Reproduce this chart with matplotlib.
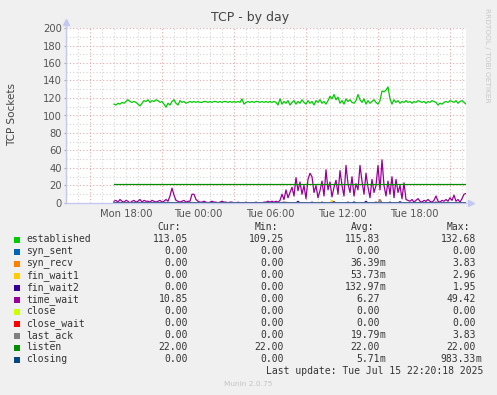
#munin tcp graph, by day
import matplotlib
matplotlib.use('Agg')
import matplotlib.pyplot as plt
from matplotlib.patches import Rectangle
import numpy as np

# samples every 10 min, starting Mon 17:00 (hours counted from Mon 00:00)
start_h = 17.0
step_h = 1.0 / 6

established = [113, 112, 114, 113, 115, 114, 116, 118, 116, 115,
               116, 115, 113, 111, 114, 117, 116, 118, 115, 117,
               116, 118, 117, 115, 116, 113, 109.5, 114, 112, 116,
               118, 114, 112, 117, 115, 116, 114, 115, 116, 115,
               116, 115, 116, 115, 115, 116, 116, 115, 116, 115,
               116, 116, 115, 116, 115, 116, 116, 115, 116, 115,
               116, 115, 116, 115, 119, 113, 115, 116, 115, 116,
               115, 116, 116, 115, 116, 115, 116, 115, 116, 115,
               116, 115, 112, 119, 113, 116, 114, 117, 112, 115,
               117, 113, 116, 114, 118, 115, 113, 117, 114, 116,
               112, 117, 115, 118, 114, 116, 113, 117, 122, 119,
               124, 118, 121, 114, 117, 113, 119, 116, 118, 115,
               114, 117, 124, 118, 115, 119, 113, 117, 114, 116,
               118, 115, 113, 117, 128, 127, 129, 132.7, 119, 113,
               118, 115, 117, 114, 116, 115, 117, 115, 116, 114,
               116, 115, 117, 116, 115, 116, 114, 116, 115, 117,
               116, 115, 112, 114, 113, 115, 116, 115, 117, 116,
               115, 117, 114, 116, 117, 115, 113.05]

time_wait = [2, 3, 1, 4, 2, 1, 3, 2, 0, 2,
             3, 1, 2, 4, 1, 3, 2, 2, 1, 3,
             2, 1, 2, 3, 1, 2, 4, 2,
             8, 17, 9, 3,
             2, 1, 2, 3, 1, 2, 2,
             10, 10, 4,
             2, 1, 1, 2, 1, 0, 1, 2, 1, 1, 0, 1, 2, 1, 1, 0, 1, 1,
             0, 0, 1, 0, 0, 0, 1, 0, 0, 0, 0, 1, 0, 0, 0, 1, 1, 2, 1, 2, 1, 2, 1,
             3, 10, 4, 15, 6, 12, 18, 8,
             29, 14, 24, 10, 20, 5, 27, 34,
             30, 12, 20, 6, 14, 25, 8, 38,
             15, 24, 7, 18, 26, 10, 37, 20,
             8, 43, 22, 12, 30, 8, 22, 15,
             43, 25, 10, 34, 18, 6, 27, 12,
             20, 43, 15, 49.4, 20, 8, 25, 10,
             30, 6, 27, 12, 20, 5, 23, 4,
             3, 2, 4, 1, 3, 5, 2, 1, 3, 2,
             4, 2, 1, 3, 8, 2, 1, 3, 2, 4,
             2, 6, 3, 9, 2, 4, 1, 5, 10,
             10.85]

listen_value = 22.0

# small blips of the rarely used states (sample index -> value)
syn_recv_idx = [86, 133]
syn_recv_val = [1.0, 3.83]
fin_wait1_idx = [84, 102, 109]
fin_wait1_val = [1.0, 1.0, 2.96]
fin_wait2_idx = [85, 92, 99, 104, 110, 117, 120, 126, 131, 138, 143, 150, 156, 161]
fin_wait2_val = [1, 1.95, 1, 1, 1.5, 1, 1, 1.95, 1, 1, 1.5, 1, 1, 1]
last_ack_idx = [133]
last_ack_val = [3.83]
closing_idx = [120]
closing_val = [0.98]

names = ['established', 'syn_sent', 'syn_recv', 'fin_wait1', 'fin_wait2', 'time_wait',
         'close', 'close_wait', 'last_ack', 'listen', 'closing']
colors = ['#00CC00', '#0066B3', '#FF8000', '#FFCC00', '#330099', '#990099',
          '#CCFF00', '#FF0000', '#808080', '#008F00', '#00487D']
cur = ['113.05', '0.00', '0.00', '0.00', '0.00', '10.85', '0.00', '0.00', '0.00', '22.00', '0.00']
mins = ['109.25', '0.00', '0.00', '0.00', '0.00', '0.00', '0.00', '0.00', '0.00', '22.00', '0.00']
avgs = ['115.83', '0.00', '36.39m', '53.73m', '132.97m', '6.27', '0.00', '0.00', '19.79m', '22.00', '5.71m']
maxs = ['132.68', '0.00', '3.83', '2.96', '1.95', '49.42', '0.00', '0.00', '3.83', '22.00', '983.33m']

xtick_pos = [18, 24, 30, 36, 42]
xtick_lab = ['Mon 18:00', 'Tue 00:00', 'Tue 06:00', 'Tue 12:00', 'Tue 18:00']

W, H = 497, 395
def fx(x):
    return x / W
def fy(y):
    return 1 - y / H

n = len(established)
t = start_h + step_h * np.arange(n)

def sparse(idx, val):
    a = np.zeros(n)
    a[idx] = val
    return a

series = {
    'established': np.array(established, dtype=float),
    'syn_sent': np.zeros(n),
    'syn_recv': sparse(syn_recv_idx, syn_recv_val),
    'fin_wait1': sparse(fin_wait1_idx, fin_wait1_val),
    'fin_wait2': sparse(fin_wait2_idx, fin_wait2_val),
    'time_wait': np.array(time_wait, dtype=float),
    'close': np.zeros(n),
    'close_wait': np.zeros(n),
    'last_ack': sparse(last_ack_idx, last_ack_val),
    'listen': np.full(n, listen_value),
    'closing': sparse(closing_idx, closing_val),
}

fig = plt.figure(figsize=(W / 100, H / 100), dpi=100, facecolor='#F0F0F0')
ax = fig.add_axes([fx(66), fy(203), 400 / W, 175 / H])
ax.set_facecolor('white')

x0, x1 = 13.0, 13.0 + 400 / 12
ax.set_xlim(x0, x1)
ax.set_ylim(0, 200)

# grid like rrdtool: minor every hour / 10, major every 6 h / 20
for h in range(14, 47):
    if (h - 15) % 6 == 0:
        ax.axvline(h, color='#E8A8A8', lw=0.8, ls=(0, (1, 2)), zorder=0.5)
    else:
        ax.axvline(h, color='#D4D4D4', lw=0.8, ls=(0, (1, 2)), zorder=0.5)
for v in range(10, 201, 10):
    if v % 20 == 0:
        ax.axhline(v, color='#E8A8A8', lw=0.8, ls=(0, (1, 2)), zorder=0.5)
    else:
        ax.axhline(v, color='#D4D4D4', lw=0.8, ls=(0, (1, 2)), zorder=0.5)

for name, c in zip(names, colors):
    ax.plot(t, series[name], color=c, lw=0.9, zorder=2)

for s in ['top', 'right']:
    ax.spines[s].set_visible(False)
for s in ['left', 'bottom']:
    ax.spines[s].set_color('#C4C8F0')
    ax.spines[s].set_linewidth(1.0)
ax.spines['left'].set_bounds(0, 203)
ax.plot([0], [1.035], marker='^', color='#C4C8F0', ms=4, transform=ax.transAxes, clip_on=False)
ax.plot([1.012], [0], marker='>', color='#C4C8F0', ms=4, transform=ax.transAxes, clip_on=False)

ax.set_yticks(range(0, 201, 20))
ax.set_xticks(xtick_pos)
ax.set_xticklabels(xtick_lab)
ax.tick_params(axis='y', length=1.5, pad=1.5, color='#AAAAAA', labelsize=7.2, labelcolor='#555555')
ax.tick_params(axis='x', length=0, pad=4, labelsize=7.2, labelcolor='#555555')

fig.text(fx(250), fy(18), 'TCP - by day', ha='center', va='center', fontsize=9, color='#444444')
fig.text(fx(12), fy(115), 'TCP Sockets', ha='center', va='center', rotation=90, fontsize=7.5, color='#444444')
fig.text(fx(487), fy(55), 'RRDTOOL / TOBI OETIKER', ha='center', va='center', rotation=270,
         fontsize=5.3, color='#C8C8C8')

# legend table
mono = 'DejaVu Sans Mono'
tc = '#333333'
head_y = 227.5
for lab, xe in zip(['Cur:', 'Min:', 'Avg:', 'Max:'], [181, 278, 374, 470]):
    fig.text(fx(xe), fy(head_y), lab, ha='right', va='center', family=mono, fontsize=7, color=tc)

cols = [cur, mins, avgs, maxs]
col_end = [188, 284, 380, 476]
for i, (name, c) in enumerate(zip(names, colors)):
    y = 239.5 + 12 * i
    fig.patches.append(Rectangle((fx(14), fy(y + 3)), 6 / W, 6 / H, transform=fig.transFigure,
                                 facecolor=c, edgecolor='none'))
    fig.text(fx(26), fy(y), name, ha='left', va='center', family=mono, fontsize=7, color=tc)
    for col, xe in zip(cols, col_end):
        s = col[i]
        unit = ''
        if s.endswith('m'):
            s, unit = s[:-1], 'm'
        fig.text(fx(xe), fy(y), s, ha='right', va='center', family=mono, fontsize=7, color=tc)
        if unit:
            fig.text(fx(xe), fy(y), unit, ha='left', va='center', family=mono, fontsize=7, color=tc)

fig.text(fx(483), fy(371.5), 'Last update: Tue Jul 15 22:20:18 2025', ha='right', va='center',
         family=mono, fontsize=7, color=tc)
fig.text(fx(248), fy(384), 'Munin 2.0.75', ha='center', va='center', fontsize=5.3, color='#C4C4C4')

plt.savefig('out.png', dpi=100, facecolor='#F0F0F0')
